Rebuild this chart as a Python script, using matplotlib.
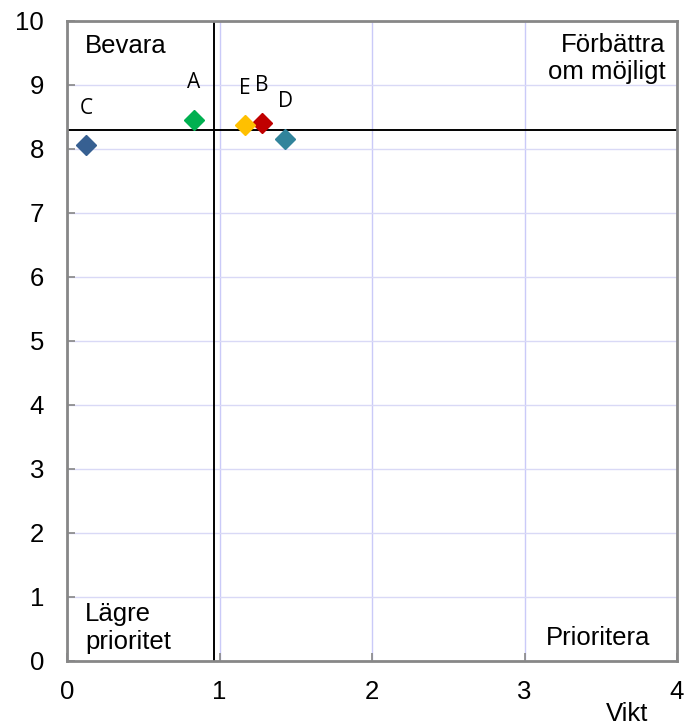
import matplotlib.pyplot as plt

labels = ["A", "B", "C", "D", "E"]
vikt = [0.83, 1.28, 0.125, 1.43, 1.167]
betyg = [8.46, 8.41, 8.06, 8.16, 8.37]
colors = ["#00B050", "#C00000", "#376092", "#31849B", "#FFC000"]

x_ticks = [0, 1, 2, 3, 4]
y_ticks = [0, 1, 2, 3, 4, 5, 6, 7, 8, 9, 10]
split_x = 0.964
split_y = 8.29

fig = plt.figure(figsize=(6.86, 7.27), dpi=100)
ax = fig.add_axes([67 / 686, 1 - 661 / 727, 610 / 686, 640 / 727])

ax.set_xlim(0, 4)
ax.set_ylim(0, 10)
ax.set_xticks(x_ticks)
ax.set_yticks(y_ticks)
ax.grid(True, axis="x", color="#CACAF8", linewidth=1.0)
ax.grid(True, axis="y", color="#D9D9F6", linewidth=1.0)
ax.set_axisbelow(True)
for s in ax.spines.values():
    s.set_color("#878787")
    s.set_linewidth(2)
ax.tick_params(direction="in", length=6, color="#878787", width=1.2, labelsize=18.5)
ax.tick_params(axis="y", pad=16.5)
ax.tick_params(axis="x", pad=14)
for lab in ax.get_xticklabels() + ax.get_yticklabels():
    lab.set_family("Liberation Sans")

ax.axvline(split_x, color="black", linewidth=1.4, zorder=2)
ax.axhline(split_y, color="black", linewidth=1.4, zorder=2)

for lbl, xv, yv, c in zip(labels, vikt, betyg, colors):
    ax.plot(xv, yv, marker="D", markersize=10, color=c, linestyle="none", zorder=3)
    ax.annotate(lbl, (xv, yv), xytext=(0, 26.5), textcoords="offset points",
                ha="center", va="center", fontsize=15, family="Open Sans")

qfont = dict(fontsize=18.5, family="Liberation Sans", linespacing=1.2)
ax.text(0.0295, 0.98, "Bevara", transform=ax.transAxes, ha="left", va="top", **qfont)
ax.text(0.981, 0.982, "Förbättra\nom möjligt", transform=ax.transAxes, ha="right", va="top", **qfont)
ax.text(0.0295, 0.092, "Lägre\nprioritet", transform=ax.transAxes, ha="left", va="top", **qfont)
ax.text(0.956, 0.054, "Prioritera", transform=ax.transAxes, ha="right", va="top", **qfont)

fig.text(627 / 686, 1 - 721 / 727, "Vikt", ha="center", va="baseline",
         fontsize=18.5, family="Liberation Sans")

fig.savefig("out.png", dpi=100)
